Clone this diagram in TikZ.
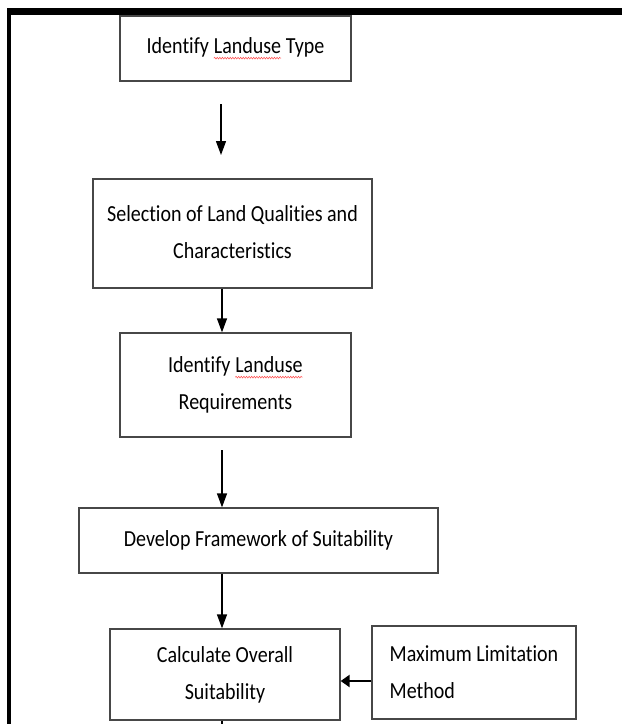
\documentclass[tikz,border=0pt]{standalone}
\usepackage{fontspec}
\setmainfont[FakeStretch=0.87, Ligatures={NoCommon}]{Carlito}
\usetikzlibrary{arrows.meta,decorations.pathmorphing}
\newcommand\spellwave[1]{\tikz[baseline=(sw.base)]{\node[draw=none, fill=none, inner sep=0pt, outer sep=0pt,
    minimum width=0pt, minimum height=0pt, align=left] (sw) {#1};
  \draw[red!70, line width=0.5pt, decorate, decoration={snake,amplitude=0.9pt,segment length=2.6pt}]
  ([yshift=-4.5pt]sw.base west) -- ([yshift=-4.5pt]sw.base east);}}
\begin{document}
\begin{tikzpicture}[x=1pt,y=-1pt,
  box/.style={draw=black!72, line width=1.3pt, fill=white, inner sep=0pt, align=center,
    font=\fontsize{23}{37}\selectfont},
  flow/.style={line width=1.3pt, -{Triangle[length=14pt,width=10pt]}},
  sidearrow/.style={line width=2.6pt, -{Triangle[length=9pt,width=12pt]}}]
\useasboundingbox (0,0) rectangle (622,724);
% frame
\fill (7,8) rectangle (622,15);
\fill (7,8) rectangle (11,724);
% boxes
\node[box, minimum width=231pt, minimum height=65pt] (b1) at (235.5,48.5) {\raisebox{3pt}{Identify \spellwave{Landuse} Type}};
\node[box, minimum width=279pt, minimum height=109pt] (b2) at (232.5,233.5) {\raisebox{3pt}{Selection of Land Qualities and}\\\raisebox{3pt}{Characteristics}};
\node[box, minimum width=231pt, minimum height=104pt] (b3) at (235.5,385) {Identify \spellwave{Landuse}\\Requirements};
\node[box, minimum width=359pt, minimum height=65pt] (b4) at (258.5,540.5) {\raisebox{3pt}{Develop Framework of Suitability}};
\node[box, minimum width=230pt, minimum height=91pt] (b5) at (225,674.5) {Calculate Overall\\Suitability};
\node[box, minimum width=204pt, minimum height=93pt, align=left] (b6) at (474,672.5) {Maximum Limitation\\Method};
% helper coordinates
\coordinate (cx) at (222,0);
\coordinate (a1s) at (221,104);
\coordinate (a1e) at (221,155);
\coordinate (a3s) at (222,450);
\coordinate (bot) at (222,730);
\coordinate (h) at (356,681);
% connectors
\draw[flow] (a1s) -- (a1e);
\draw[flow] (b2.south -| cx) -- (b3.north -| cx);
\draw[flow] (a3s) -- (b4.north -| cx);
\draw[flow] (b4.south -| cx) -- (b5.north -| cx);
\draw[line width=1.3pt] (b5.south -| cx) -- (bot);
\draw[sidearrow] (b6.west |- h) -- (b5.east |- h);
\end{tikzpicture}
\end{document}
